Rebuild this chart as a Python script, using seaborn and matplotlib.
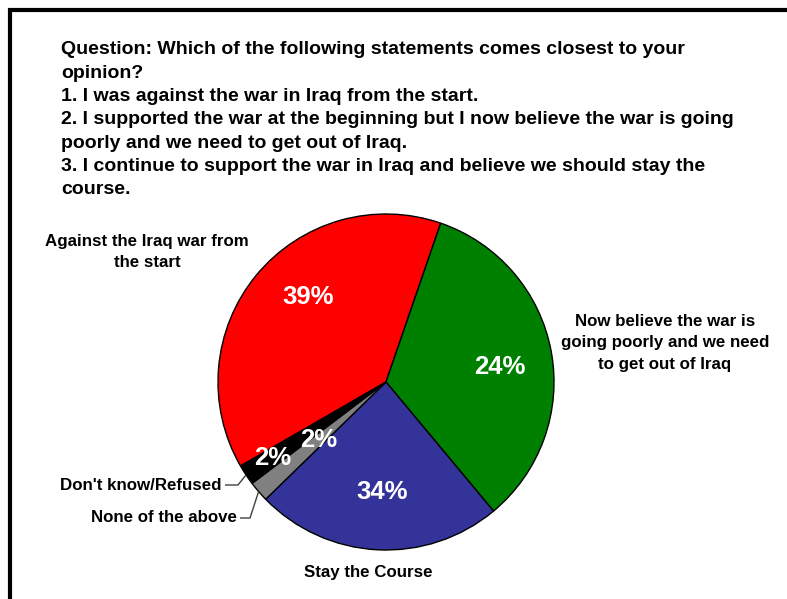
import numpy as np
import matplotlib
matplotlib.use("Agg")
import matplotlib.pyplot as plt
from matplotlib.lines import Line2D
import seaborn as sns

sns.set_theme(style="white")
plt.rcParams['font.family'] = ['Liberation Sans', 'DejaVu Sans']

# ---- data ----
categories = ["Against the Iraq war from\nthe start",
              "Now believe the war is\ngoing poorly and we need\nto get out of Iraq",
              "Stay the Course",
              "None of the above",
              "Don't know/Refused"]
# wedge sizes as drawn in the reference
sizes = [39, 34, 24, 2, 2]
# percentage labels as printed in the reference
pct_labels = ["39%", "24%", "34%", "2%", "2%"]
colors = ["#FF0000", "#008000", "#333399", "#808080", "#000000"]

title_lines = [
    "Question: Which of the following statements comes closest to your",
    "opinion?",
    "1. I was against the war in Iraq from the start.",
    "2. I supported the war at the beginning but I now believe the war is going",
    "poorly and we need to get out of Iraq.",
    "3. I continue to support the war in Iraq and believe we should stay the",
    "course.",
]

W, H = 787, 599
fig = plt.figure(figsize=(W / 100, H / 100), dpi=100)
fig.patch.set_facecolor("white")
ax = fig.add_axes([0, 0, 1, 1])

def py(y):
    return H - y

cx, cy, R = 386, py(382), 168
wedges, _ = ax.pie(sizes, colors=colors, startangle=210, counterclock=False,
                   center=(cx, cy), radius=R, frame=True,
                   wedgeprops=dict(edgecolor="black", linewidth=1.0))
ax.set_xlim(0, W)
ax.set_ylim(0, H)
ax.set_aspect("equal")
ax.axis("off")

def mid_angle(w, off=0.0):
    return np.deg2rad((w.theta1 + w.theta2) / 2 + off)

# percentage labels (radius factor, angle offset in degrees)
rfac = [0.69, 0.685, 0.655, 0.53, 0.81]
aoff = [-8.0, -3.0, 1.2, 0.0, 0.3]
for w, lab, f, o in zip(wedges, pct_labels, rfac, aoff):
    a = mid_angle(w, o)
    ax.text(cx + f * R * np.cos(a), cy + f * R * np.sin(a), lab,
            ha="center", va="center", color="white", fontsize=18.5,
            fontweight="bold")

# category labels
lab_fs = 12.2
ax.text(147, py(252), categories[0], ha="center", va="center",
        fontsize=lab_fs, fontweight="bold", color="black", linespacing=1.5)
ax.text(665, py(343), categories[1], ha="center", va="center",
        fontsize=lab_fs, fontweight="bold", color="black", linespacing=1.5)
ax.text(368, py(572), categories[2], ha="center", va="center",
        fontsize=lab_fs, fontweight="bold", color="black")

# leader-line labels
def leader(w, tx, ty, elbow_x, label):
    a = mid_angle(w)
    ex, ey = cx + R * np.cos(a), cy + R * np.sin(a)
    ax.text(tx, py(ty), label, ha="right", va="center", fontsize=lab_fs,
            fontweight="bold", color="black")
    ax.plot([tx + 3, elbow_x, ex], [py(ty), py(ty), ey], color="#404040",
            linewidth=1.0, solid_capstyle="butt")

leader(wedges[4], 222, 485, 238, categories[4])
leader(wedges[3], 237, 518, 250, categories[3])

# question text
y0 = 50
for i, line in enumerate(title_lines):
    ax.text(61, py(y0 + i * 23.3), line, ha="left", va="center",
            fontsize=14.0, fontweight="bold", color="black")

# frame (top and left edges visible)
fig.add_artist(Line2D([8 / W, 1.0], [1 - 10 / H, 1 - 10 / H],
                      transform=fig.transFigure, color="black", linewidth=3,
                      solid_capstyle="butt"))
fig.add_artist(Line2D([10 / W, 10 / W], [0, 1 - 8 / H],
                      transform=fig.transFigure, color="black", linewidth=3,
                      solid_capstyle="butt"))

fig.savefig("out.png", dpi=100, facecolor="white")
